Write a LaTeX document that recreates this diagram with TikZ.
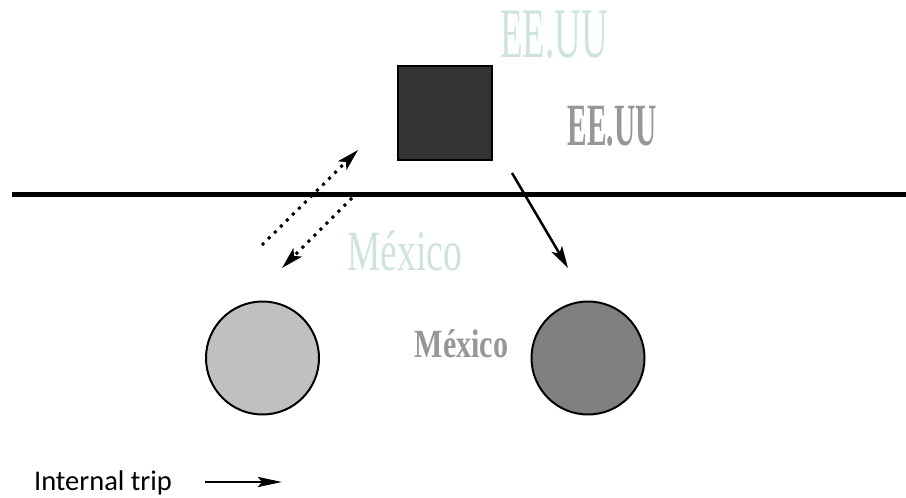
\documentclass[tikz,border=0pt]{standalone}
\usepackage{graphicx}
\usepackage{fontspec}
\setmainfont{Liberation Serif}
\newfontfamily\legendfont{Carlito}
\usetikzlibrary{arrows.meta}
\definecolor{mint}{HTML}{CDE5D9}
\definecolor{flaggray}{HTML}{979797}
\definecolor{boxgray}{HTML}{333333}
\definecolor{lightdisc}{HTML}{C0C0C0}
\definecolor{darkdisc}{HTML}{808080}

\begin{document}
\begin{tikzpicture}[x=1pt,y=-1pt,
    trip/.style={-{Stealth[length=22pt,width=12pt,inset=5pt]}},
    dots/.style={line width=3pt,dash pattern=on 3pt off 5.5pt},
    town/.style={circle,draw,line width=2pt,minimum size=113pt,inner sep=0pt},
    word/.style={anchor=base,inner sep=0pt}]
\useasboundingbox (0,0) rectangle (906,498);
% border line
\coordinate (westend) at (12,194.5);
\coordinate (eastend) at (906,194.5);
\draw[line width=5pt] (westend) -- (eastend);
% places
\node[draw,line width=2pt,fill=boxgray,minimum size=94pt,inner sep=0pt] (usa) at (444.5,112.5) {};
\node[town,fill=lightdisc] (mxleft) at (262.5,358) {};
\node[town,fill=darkdisc] (mxright) at (588,358) {};
% names
\node[word,text=mint] (usalight) at (554,57) {\fontsize{71}{71}\selectfont\scalebox{0.52}[1]{EE.UU}};
\node[word,text=flaggray] (usabold) at (612,145) {\fontsize{60}{60}\selectfont\bfseries\scalebox{0.49}[1]{EE.UU}};
\node[word,text=mint] (mxlight) at (404.5,270) {\fontsize{57}{57}\selectfont\scalebox{0.66}[1]{México}};
\node[word,text=flaggray] (mxbold) at (461.5,357) {\fontsize{40}{40}\selectfont\bfseries\scalebox{0.75}[1]{México}};
% crossings
\coordinate (upfrom) at (262,245);
\coordinate (upto) at (358,150);
\coordinate (downfrom) at (352,198);
\coordinate (downto) at (282,268);
\coordinate (southfrom) at (512,173);
\coordinate (southto) at (568,268);
\draw[dots,trip] (upfrom) -- (upto);
\draw[dots,trip] (downfrom) -- (downto);
\draw[line width=2.5pt,trip] (southfrom) -- (southto);
% legend
\node[anchor=base,inner sep=0pt] (legend) at (103,490) {\legendfont\fontsize{28.5}{28.5}\selectfont Internal trip};
\coordinate (keyfrom) at (205,482);
\coordinate (keyto) at (282,482);
\draw[line width=2.5pt,-{Stealth[length=24pt,width=10pt,inset=4pt]}] (keyfrom) -- (keyto);
\end{tikzpicture}
\end{document}
